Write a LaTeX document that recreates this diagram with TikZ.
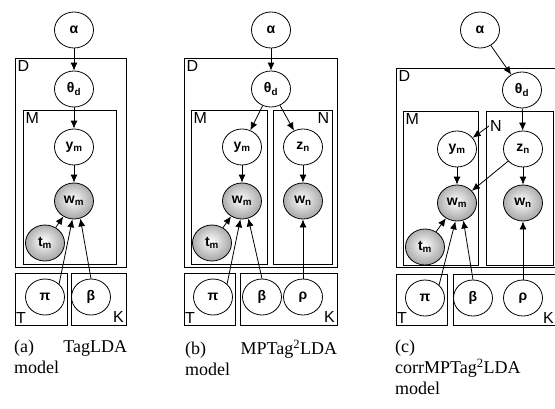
\documentclass[tikz,border=0pt]{standalone}
\usepackage{fontspec}
\setmainfont{Liberation Serif}
\setsansfont{Liberation Sans}
\usetikzlibrary{arrows.meta,shapes.geometric}

\pgfdeclareradialshading{obsshade}{\pgfpoint{-2bp}{3bp}}{color(0bp)=(white); color(36bp)=(black!48); color(50bp)=(black!48)}
\tikzset{
  var/.style={ellipse, draw, line width=0.8pt, minimum width=39pt, minimum height=36pt,
    inner sep=0pt, font=\fontsize{14}{16}\selectfont\sffamily\bfseries},
  obs/.style={var, shading=obsshade},
  plate/.style={draw, line width=0.8pt},
  platelbl/.style={font=\fontsize{16}{18}\selectfont\sffamily, inner sep=2.5pt},
  captxt/.style={font=\fontsize{18}{21}\selectfont, anchor=north west, inner sep=0pt, align=left}
}

\begin{document}
\begin{tikzpicture}[x=1pt, y=-1pt, >={Latex[length=8pt,width=7pt]}]
      \useasboundingbox (0,0) rectangle (555,408);
      % (a) TagLDA
      \draw[plate] (15,58) rectangle (126,267);
      \draw[plate] (23,110) rectangle (116,264);
      \draw[plate] (15,273) rectangle (67,325);
      \draw[plate] (71,273) rectangle (126,325);
      \node[platelbl, anchor=north west] (a-D) at (15,58) {D};
      \node[platelbl, anchor=north west] (a-M) at (23,110) {M};
      \node[platelbl, anchor=south west, inner sep=1pt] (a-T) at (15,325) {T};
      \node[platelbl, anchor=south east, inner sep=2pt] (a-K) at (126,325) {K};
      \node[var] (a-alpha) at (74,30) {α};
      \node[var] (a-theta) at (74,89) {θ\textsubscript{d}};
      \node[var] (a-y) at (74,147) {y\textsubscript{m}};
      \node[obs] (a-w) at (74,201) {w\textsubscript{m}};
      \node[obs] (a-t) at (45,243) {t\textsubscript{m}};
      \node[var] (a-pi) at (45,297) {π};
      \node[var] (a-beta) at (91,297) {β};
      \draw[thick,->] (a-alpha) -- (a-theta);
      \draw[thick,->] (a-theta) -- (a-y);
      \draw[thick,->] (a-y) -- (a-w);
      \draw[thick,->] (a-t) -- (a-w);
      \draw[thick,->] (a-pi.north east) -- (a-w.265);
      \draw[thick,->] (a-beta.north) -- (a-w.290);
      \node[captxt, text width=113pt] (a-cap) at (14,340) {(a)\hfill TagLDA\\model};

      % (b) MPTag2LDA
      \draw[plate] (184,58) rectangle (337,267);
      \draw[plate] (191,110) rectangle (267,264);
      \draw[plate] (273,110) rectangle (332,264);
      \draw[plate] (184,273) rectangle (235,325);
      \draw[plate] (240,273) rectangle (337,325);
      \node[platelbl, anchor=north west] (b-D) at (184,58) {D};
      \node[platelbl, anchor=north west] (b-M) at (191,110) {M};
      \node[platelbl, anchor=north east] (b-N) at (332,110) {N};
      \node[platelbl, anchor=south west, inner sep=1pt] (b-T) at (184,325) {T};
      \node[platelbl, anchor=south east, inner sep=2pt] (b-K) at (337,325) {K};
      \node[var] (b-alpha) at (271,30) {α};
      \node[var] (b-theta) at (271,89) {θ\textsubscript{d}};
      \node[var] (b-y) at (242,147) {y\textsubscript{m}};
      \node[var] (b-z) at (303,147) {z\textsubscript{n}};
      \node[obs] (b-w) at (242,201) {w\textsubscript{m}};
      \node[obs] (b-wn) at (303,201) {w\textsubscript{n}};
      \node[obs] (b-t) at (212,243) {t\textsubscript{m}};
      \node[var] (b-pi) at (213,297) {π};
      \node[var] (b-beta) at (262,297) {β};
      \node[var] (b-rho) at (303,297) {ρ};
      \draw[thick,->] (b-alpha) -- (b-theta);
      \draw[thick,->] (b-theta) -- (b-y);
      \draw[thick,->] (b-theta) -- (b-z);
      \draw[thick,->] (b-y) -- (b-w);
      \draw[thick,->] (b-z) -- (b-wn);
      \draw[thick,->] (b-t) -- (b-w);
      \draw[thick,->] (b-pi.north east) -- (b-w.265);
      \draw[thick,->] (b-beta.north) -- (b-w.290);
      \draw[thick,->] (b-rho) -- (b-wn);
      \node[captxt, text width=152pt] (b-cap) at (185,340) {(b)\hfill MPTag\textsuperscript{2}LDA\\model};

      % (c) corrMPTag2LDA
      \draw[plate] (396,68) rectangle (562,267);
      \draw[plate] (403,111) rectangle (478,265);
      \draw[plate] (486,111) rectangle (553,265);
      \draw[plate] (396,274) rectangle (447,325);
      \draw[plate] (453,274) rectangle (562,325);
      \node[platelbl, anchor=north west] (c-D) at (396,68) {D};
      \node[platelbl, anchor=north west] (c-M) at (403,111) {M};
      \node[platelbl, anchor=west, inner sep=1pt] (c-N) at (489,126) {N};
      \node[platelbl, anchor=south west, inner sep=1pt] (c-T) at (396,325) {T};
      \node[platelbl, anchor=south east, inner sep=1pt] (c-K) at (555,325) {K};
      \node[var] (c-alpha) at (480,30) {α};
      \node[var] (c-theta) at (522,90) {θ\textsubscript{d}};
      \node[var] (c-y) at (457,149) {y\textsubscript{m}};
      \node[var] (c-z) at (523,149) {z\textsubscript{n}};
      \node[obs] (c-w) at (457,203) {w\textsubscript{m}};
      \node[obs] (c-wn) at (523,203) {w\textsubscript{n}};
      \node[obs] (c-t) at (425,247) {t\textsubscript{m}};
      \node[var] (c-pi) at (425,298) {π};
      \node[var] (c-beta) at (473,298) {β};
      \node[var] (c-rho) at (523,298) {ρ};
      \draw[thick,->] (c-alpha) -- (c-theta);
      \draw[thick,->] (c-theta) -- (c-z);
      \draw[thick,->] (c-N.west) -- (c-y);
      \draw[thick,->] (c-y) -- (c-w);
      \draw[thick,->] (c-z) -- (c-wn);
      \draw[thick,->] (c-z) -- (c-w);
      \draw[thick,->] (c-t) -- (c-w);
      \draw[thick,->] (c-pi.north east) -- (c-w.265);
      \draw[thick,->] (c-beta.north) -- (c-w.290);
      \draw[thick,->] (c-rho) -- (c-wn);
      \node[captxt, text width=160pt] (c-cap) at (395,340) {(c)\\corrMPTag\textsuperscript{2}LDA\\model};
\end{tikzpicture}
\end{document}
